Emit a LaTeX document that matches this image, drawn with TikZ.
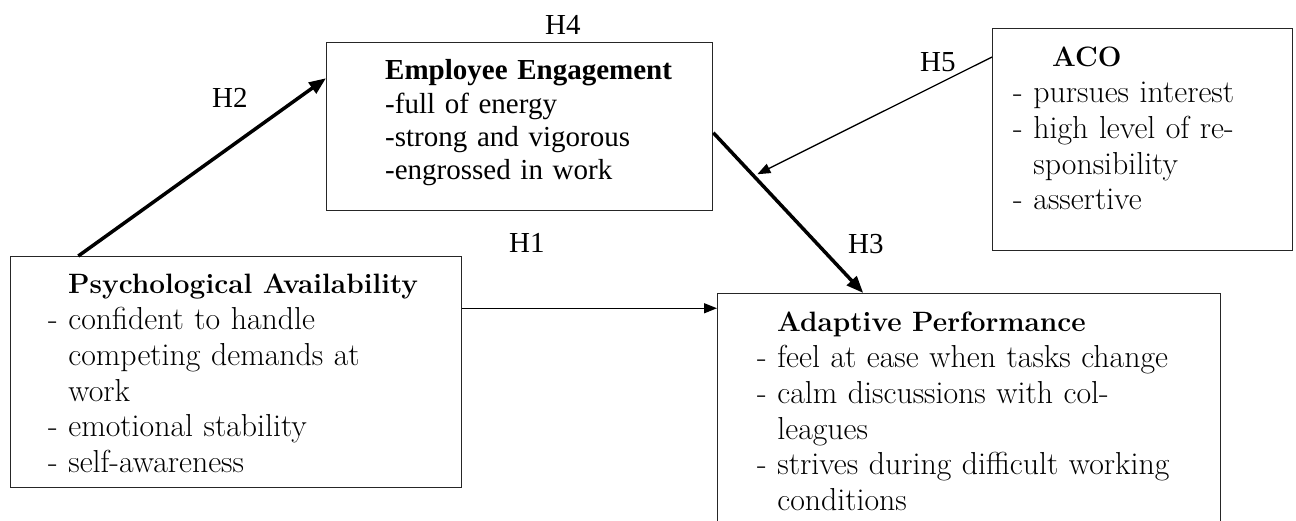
\documentclass[tikz,border=0pt]{standalone}
\usepackage{fontspec}
\newfontfamily\timesfont{Liberation Serif}
\usetikzlibrary{arrows.meta,calc}
\begin{document}
\begin{tikzpicture}[x=1pt,y=-1pt,
  box/.style={draw=black!85, line width=1.3pt, inner sep=0pt, anchor=north west},
  pal/.style={anchor=base west, inner sep=0pt, text width=480pt, align=left,
    font=\fontsize{31.8}{35.7}\selectfont},
  tim/.style={anchor=base west, inner sep=0pt, text width=320pt, align=left,
    font=\timesfont\fontsize{29}{33.3}\selectfont},
  lab/.style={anchor=base west, inner sep=0pt, font=\timesfont\fontsize{29}{33}\selectfont},
  thickarrow/.style={line width=3.5pt, -{Triangle[length=17pt,width=13pt]}},
  thinarrow/.style={line width=1.3pt, -{Triangle[length=13pt,width=10pt]}},
]
\newcommand{\hb}[1]{{\fontsize{28}{35.7}\selectfont\bfseries #1}}
\useasboundingbox (0,0) rectangle (1296,521);
\fill[white] (0,0) rectangle (1296,521);
\clip (0,0) rectangle (1296,521);

% boxes
\node[box, minimum width=451pt, minimum height=231pt] (pa) at (10,256) {};
\node[box, minimum width=386pt, minimum height=168pt] (ee) at (326,42) {};
\node[box, minimum width=300pt, minimum height=222pt] (aco) at (992,28) {};
\node[box, minimum width=503pt, minimum height=240pt] (ap) at (717,293) {};

% box texts
\node[pal] (patext) at (48,294) {\hspace*{20pt}\hb{Psychological Availability}\\
- confident to handle\\
\phantom{- }competing demands at\\
\phantom{- }work\\
- emotional stability\\
- self-awareness};

\node[tim] (eetext) at (385,80) {\textbf{Employee Engagement}\\
-full of energy\\
-strong and vigorous\\
-engrossed in work};

\node[pal] (acotext) at (1013,67) {\hspace*{39pt}\hb{ACO}\\
- pursues interest\\
- high level of re-\\
\phantom{- }sponsibility\\
- assertive};

\node[pal] (aptext) at (757,332) {\hspace*{20pt}\hb{Adaptive Performance}\\
- feel at ease when tasks change\\
- calm discussions with col-\\
\phantom{- }leagues\\
- strives during difficult working\\
\phantom{- }conditions};

% labels
\node[lab] (H4) at (545,35) {H4};
\node[lab] (H2) at (212,108) {H2};
\node[lab] (H5) at (920,72) {H5};
\node[lab] (H1) at (509,253) {H1};
\node[lab] (H3) at (848,254) {H3};

% connectors
\coordinate (h2s) at ($(pa.north west)!0.151!(pa.north east)$);
\coordinate (h2e) at ($(ee.north west)!0.214!(ee.south west)$);
\draw[thickarrow] (h2s) -- (h2e);

\coordinate (h3s) at ($(ee.north east)!0.536!(ee.south east)$);
\coordinate (h3e) at ($(ap.north west)!0.290!(ap.north east)$);
\draw[thickarrow] (h3s) -- (h3e);

\coordinate (h5s) at ($(aco.north west)!0.13!(aco.south west)$);
\coordinate (h5e) at ($(h3s)!0.27!(h3e)$);
\draw[thinarrow, shorten >=4pt] (h5s) -- (h5e);

\coordinate (h1s) at ($(pa.north east)!0.225!(pa.south east)$);
\draw[thinarrow] (h1s) -- (h1s -| ap.west);
\end{tikzpicture}
\end{document}
